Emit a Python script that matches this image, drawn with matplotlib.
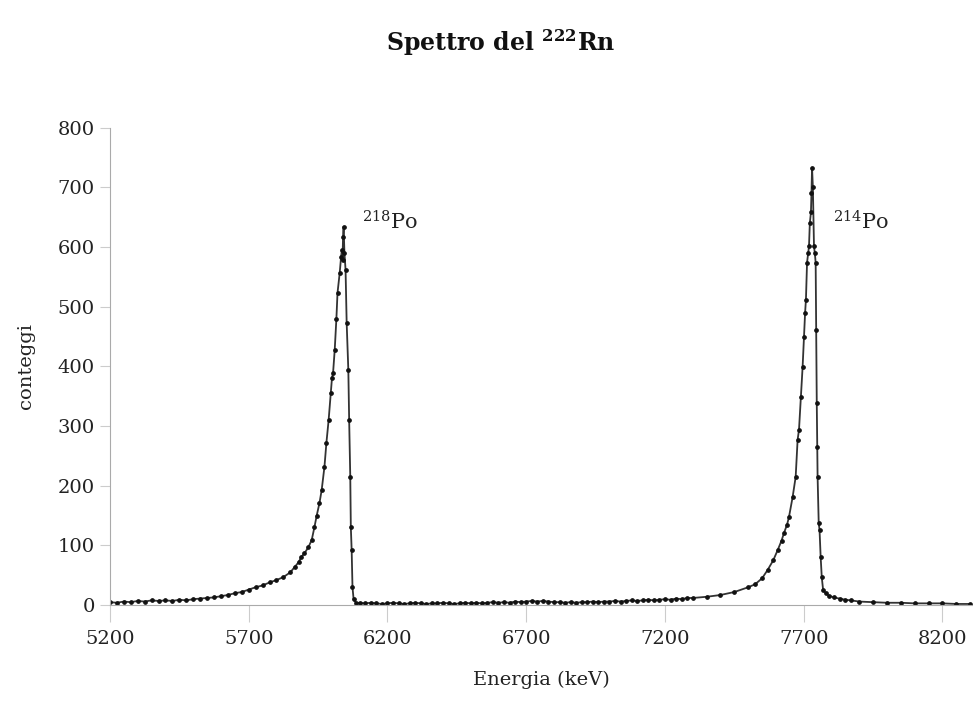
import matplotlib
matplotlib.use("Agg")
import matplotlib.pyplot as plt

# energy (keV) and counts
energia_sx = [5200, 5225, 5250, 5275, 5300, 5325, 5350, 5375, 5400, 5425,
              5450, 5475, 5500, 5525, 5550, 5575, 5600, 5625, 5650, 5675,
              5700, 5725, 5750, 5775, 5800, 5825]
conteggi_sx = [5, 4, 6, 5, 7, 6, 8, 7, 8, 7,
               9, 8, 10, 11, 12, 13, 15, 17, 20, 22,
               26, 30, 33, 38, 42, 47]

energia_po218 = [5850, 5866, 5880, 5890, 5901, 5915, 5927, 5937, 5945, 5955,
                 5963, 5973, 5980, 5988, 5996, 6000, 6004, 6010, 6016, 6020,
                 6028, 6033, 6036, 6038, 6040, 6042, 6045, 6049, 6053, 6059,
                 6062, 6066, 6068, 6071, 6074, 6078, 6088]
conteggi_po218 = [55, 64, 72, 81, 87, 97, 109, 131, 150, 171,
                  193, 232, 272, 310, 356, 380, 389, 428, 480, 523,
                  557, 584, 595, 578, 617, 634, 590, 562, 473, 394,
                  310, 215, 131, 92, 30, 10, 3]

energia_mezzo = [6100, 6120, 6140, 6160, 6180, 6200, 6220, 6240, 6260, 6280,
                 6300, 6320, 6340, 6360, 6380, 6400, 6420, 6440, 6460, 6480,
                 6500, 6520, 6540, 6560, 6580, 6600, 6620, 6640, 6660, 6680,
                 6700, 6720, 6740, 6760, 6780, 6800, 6820, 6840, 6860, 6880,
                 6900, 6920, 6940, 6960, 6980, 7000, 7020, 7040, 7060, 7080,
                 7100, 7120, 7140, 7160, 7180, 7200, 7220, 7240, 7260, 7280]
conteggi_mezzo = [4, 3, 4, 3, 2, 3, 4, 3, 2, 3,
                  4, 3, 2, 3, 3, 4, 3, 2, 3, 4,
                  3, 4, 3, 4, 5, 4, 5, 4, 6, 5,
                  6, 7, 6, 7, 6, 5, 5, 4, 5, 4,
                  5, 5, 6, 5, 6, 6, 7, 6, 7, 8,
                  7, 8, 9, 8, 9, 10, 9, 11, 10, 12]

energia_po214 = [7300, 7350, 7400, 7450, 7500, 7525, 7550, 7570, 7590, 7606,
                 7620, 7629, 7640, 7647, 7660, 7671, 7678, 7683, 7690, 7696,
                 7701, 7705, 7708, 7712, 7716, 7719, 7722, 7726, 7728, 7730,
                 7733, 7737, 7740, 7743, 7745, 7747, 7749, 7750, 7754, 7757,
                 7761, 7765, 7770, 7780, 7790, 7808, 7830, 7850, 7870, 7900,
                 7950, 8000, 8050, 8100, 8150, 8200, 8250, 8300]
conteggi_po214 = [12, 14, 17, 22, 30, 35, 45, 59, 75, 92,
                  108, 121, 135, 148, 181, 215, 277, 294, 349, 399,
                  450, 490, 512, 574, 590, 601, 640, 658, 691, 733,
                  700, 601, 590, 574, 461, 339, 265, 215, 138, 126,
                  81, 47, 25, 20, 16, 13, 11, 9, 8, 6,
                  5, 4, 4, 3, 3, 3, 2, 2]

energia = energia_sx + energia_po218 + energia_mezzo + energia_po214
conteggi = conteggi_sx + conteggi_po218 + conteggi_mezzo + conteggi_po214

plt.rcParams['font.family'] = ['DejaVu Serif']
plt.rcParams['mathtext.fontset'] = 'dejavuserif'

fig = plt.figure(figsize=(9.73, 7.17), dpi=100)
ax = fig.add_axes([0.113, 0.156, 0.887, 0.666])

ax.plot(energia, conteggi, color='#333333', lw=1.3, marker='o',
        markersize=2.4, markerfacecolor='#111111', markeredgecolor='#111111')

ax.set_xlim(5200, 8310)
ax.set_ylim(0, 800)
ax.set_xticks([5200, 5700, 6200, 6700, 7200, 7700, 8200])
ax.set_yticks(range(0, 801, 100))

for s in ['top', 'right']:
    ax.spines[s].set_visible(False)
for s in ['left', 'bottom']:
    ax.spines[s].set_color('#aaaaaa')
    ax.spines[s].set_linewidth(0.8)

ax.tick_params(axis='x', direction='out', length=12, color='#cccccc',
               labelsize=14, pad=6, labelcolor='#222222')
ax.tick_params(axis='y', direction='out', length=7, color='#cccccc',
               labelsize=14, pad=4, labelcolor='#222222')

ax.set_xlabel('Energia (keV)', fontsize=14, labelpad=16, color='#222222')
ax.set_ylabel('conteggi', fontsize=14, labelpad=16, color='#222222')

ax.text(6110, 622, r'$^{218}$Po', fontsize=15, color='#222222', va='bottom')
ax.text(7805, 622, r'$^{214}$Po', fontsize=15, color='#222222', va='bottom')

fig.suptitle(r'Spettro del $^{\mathbf{222}}$Rn', fontsize=17,
             fontweight='bold', x=0.515, y=0.962, color='#111111')

fig.savefig('out.png', dpi=100, facecolor='white')
